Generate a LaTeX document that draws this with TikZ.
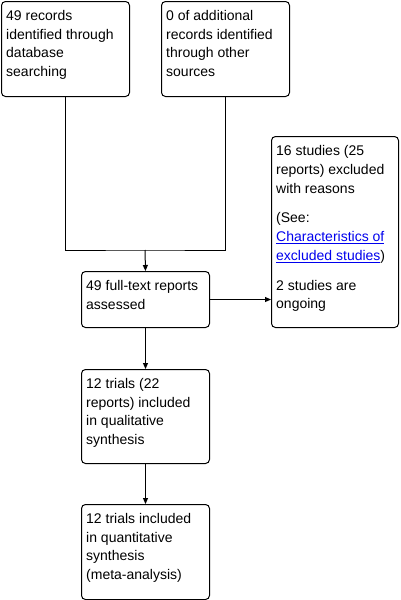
\documentclass[tikz,border=0pt]{standalone}
\usepackage{fontspec}
\setmainfont{Liberation Sans}
\usetikzlibrary{arrows.meta}
\definecolor{linkblue}{RGB}{0,0,238}
\begin{document}
\begin{tikzpicture}[x=1pt,y=-1pt,
  box/.style={draw, rounded corners=4pt, line width=1pt, anchor=north west, inner sep=0pt},
  txt/.style={anchor=north west, inner sep=0pt, align=left, font=\fontsize{14}{18.7}\selectfont},
  arr/.style={-{Triangle[length=6pt,width=5pt]}, line width=1pt},
  conn/.style={line width=1pt}]
\useasboundingbox[fill=white] (0,0) rectangle (401,600);
% boxes
\node[box, minimum width=128pt, minimum height=95pt] (b1) at (1,1) {};
\node[box, minimum width=128pt, minimum height=95pt] (b2) at (161,1) {};
\node[box, minimum width=128pt, minimum height=56pt] (full) at (81,271) {};
\node[box, minimum width=127pt, minimum height=191pt] (excl) at (271,136) {};
\node[box, minimum width=128pt, minimum height=94pt] (qual) at (81,369) {};
\node[box, minimum width=128pt, minimum height=95pt] (quant) at (81,504) {};
% texts
\node[txt] (t1) at (6,10) {\rule{0pt}{10pt}49 records\\identified through\\database\\searching};
\node[txt] (t2) at (166,10) {\rule{0pt}{10pt}0 of additional\\records identified\\through other\\sources};
\node[txt] (t3) at (86,280) {\rule{0pt}{10pt}49 full-text reports\\assessed};
\node[txt] (t4) at (276,145.5) {\rule{0pt}{10pt}16 studies (25\\reports) excluded\\with reasons\\[11pt](See:\\\textcolor{linkblue}{\underline{Characteristics of}}\\\textcolor{linkblue}{\underline{excluded studies}})\\[11pt]2 studies are\\ongoing};
\node[txt] (t5) at (86,378) {\rule{0pt}{10pt}12 trials (22\\reports) included\\in qualitative\\synthesis};
\node[txt] (t6) at (86,513) {\rule{0pt}{10pt}12 trials included\\in quantitative\\synthesis\\(meta-analysis)};
% connectors
\coordinate (j) at (145,250);
\draw[conn] (b1.south) |- (j) -| (b2.south);
\draw[arr] (j) -- (full.north);
\draw[arr] (full.east) -- (full.east -| excl.west);
\draw[arr] (full.south) -- (qual.north);
\draw[arr] (qual.south) -- (quant.north);
\end{tikzpicture}
\end{document}
